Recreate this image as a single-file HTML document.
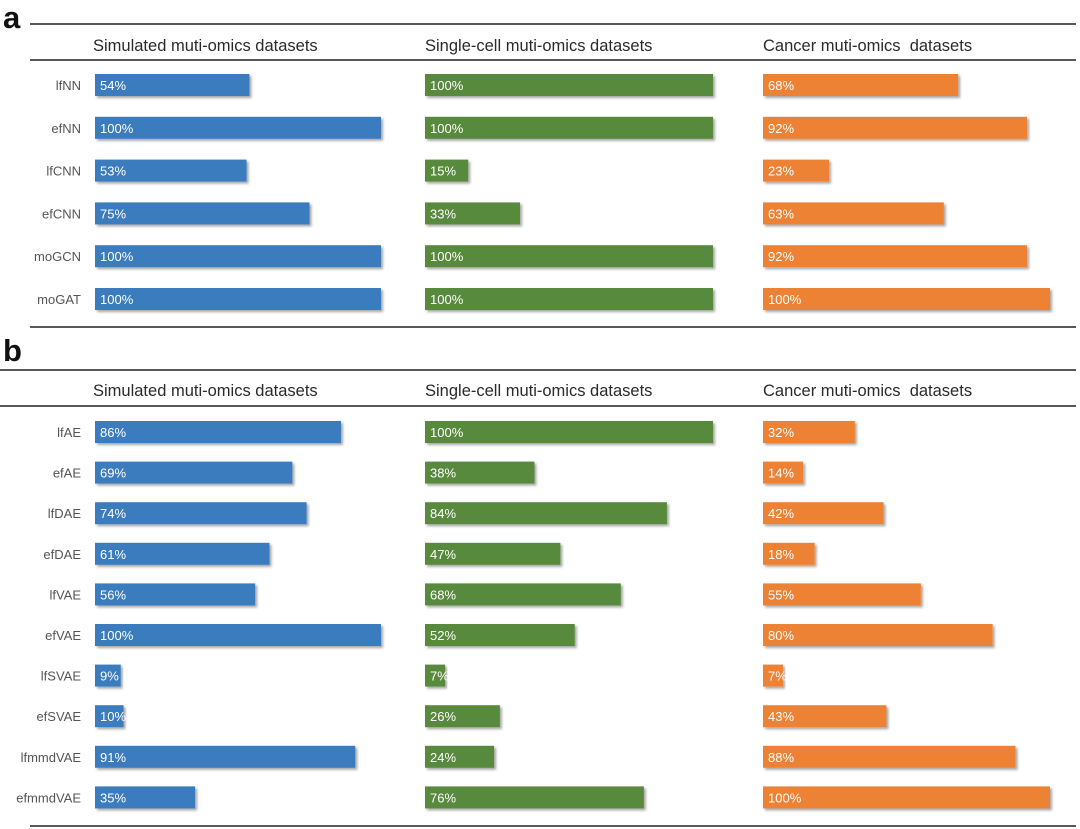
<!DOCTYPE html>
<html><head><meta charset="utf-8"><style>
body{margin:0;background:#fff;width:1080px;height:829px;overflow:hidden}
svg{display:block;font-family:"Liberation Sans",Arial,sans-serif}
text{white-space:pre}
</style></head><body>
<svg id="c" width="1080" height="829">
<defs><filter id="sh" x="-5%" y="-20%" width="115%" height="160%"><feDropShadow dx="2" dy="2" stdDeviation="1.2" flood-color="#000" flood-opacity="0.35"/></filter></defs>
</svg>
<script>
const datasets = ["Simulated muti-omics datasets","Single-cell muti-omics datasets","Cancer muti-omics  datasets"];
const modelsA = ["lfNN","efNN","lfCNN","efCNN","moGCN","moGAT"];
const simA = [54,100,53,75,100,100];
const scA = [100,100,15,33,100,100];
const canA = [68,92,23,63,92,100];
const modelsB = ["lfAE","efAE","lfDAE","efDAE","lfVAE","efVAE","lfSVAE","efSVAE","lfmmdVAE","efmmdVAE"];
const simB = [86,69,74,61,56,100,9,10,91,35];
const scB = [100,38,84,47,68,52,7,26,24,76];
const canB = [32,14,42,18,55,80,7,43,88,100];

const svg = document.getElementById('c');
const NS = 'http://www.w3.org/2000/svg';
function mk(tag, attrs, parent){const e=document.createElementNS(NS,tag);for(const k in attrs)e.setAttribute(k,attrs[k]);(parent||svg).appendChild(e);return e;}
const colX=[95,425,763], colW=[286,288,287], colors=["#3a7bbf","#588a3c","#ed8236"];
const headX=[93,425,763];
function xScale(col,v){return colW[col]*v/100;}

function panel(letter, letterY, topLine, topX, headY, headLine, rows, rowY0, rowStep, series, bottomLine){
  const g=mk('g',{});
  
  
  const t=mk('text',{x:3,y:letterY,'font-size':31,'font-weight':'bold',fill:'#111'},g);t.textContent=letter;
  
  
  [[topLine,topX],[headLine,topX==30&&letter=='a'?30:0],[bottomLine,30]].forEach(([y,x0],i)=>{
    const l=mk('line',{x1:x0,x2:1076,y1:y,y2:y,stroke:'#222','stroke-width':1.6},g);
    
    
  });
  datasets.forEach((d,i)=>{
    const h=mk('text',{x:headX[i],y:headY,'font-size':16.5,fill:'#2a2a2a'},g);h.textContent=d;
    
    
  });
  rows.forEach((m,r)=>{
    const cy=rowY0+r*rowStep;
    const lab=mk('text',{x:81,y:cy+5,'font-size':13,fill:'#555','text-anchor':'end'},g);lab.textContent=m;
    
    
    series.forEach((s,ci)=>{
      const v=s[r];
      const b=mk('rect',{x:colX[ci],y:cy-11,width:xScale(ci,v),height:22,fill:colors[ci],filter:'url(#sh)'},g);
      
      
      const tv=mk('text',{x:colX[ci]+5,y:cy+5,'font-size':13,fill:'#fff'},g);tv.textContent=v+'%';
      
      
    });
  });
}
panel('a',28,24,30,51,60,modelsA,85,42.8,[simA,scA,canA],327);
panel('b',361,370,0,396,406,modelsB,432,40.6,[simB,scB,canB],826);
</script>
</body></html>
